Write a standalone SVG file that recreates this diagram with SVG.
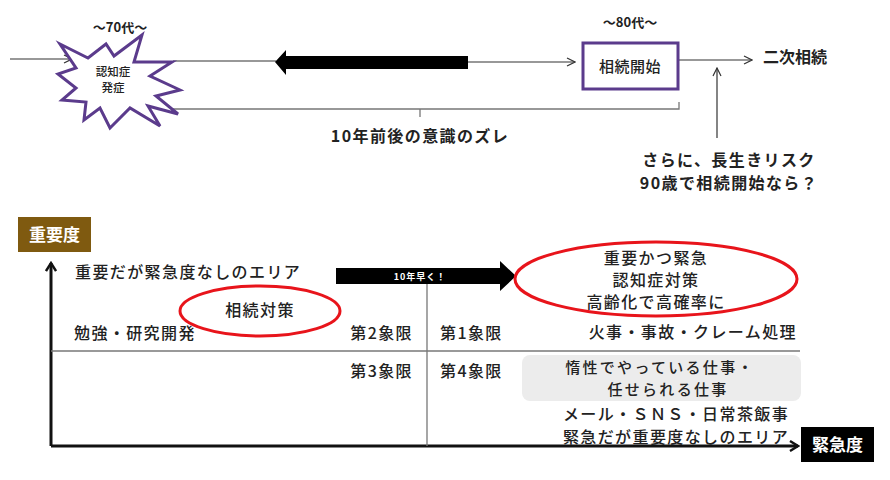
<svg xmlns="http://www.w3.org/2000/svg" width="890" height="480" viewBox="0 0 890 480">
<defs>
<style>
text{font-family:"Noto Sans CJK JP","Noto Sans",sans-serif;fill:#222;font-weight:500;}
.b{font-weight:bold;}
.m{font-size:16px;letter-spacing:1.4px;}
.s{font-size:15px;letter-spacing:2.3px;}
.c{text-anchor:middle;}
.thin{stroke:#333;stroke-width:1.2;fill:none;}
.gray{stroke:#777;stroke-width:1.3;fill:none;}
.axis{stroke:#111;stroke-width:3;fill:none;}
</style>
<marker id="open" viewBox="0 0 10 10" refX="9" refY="5" markerWidth="10" markerHeight="10" markerUnits="userSpaceOnUse" orient="auto">
<path d="M1,1 L9,5 L1,9" fill="none" stroke="#333" stroke-width="1.2"/>
</marker>
<marker id="axisHead" viewBox="0 0 12 12" refX="10" refY="6" markerWidth="12" markerHeight="12" markerUnits="userSpaceOnUse" orient="auto">
<path d="M2,1 L10,6 L2,11" fill="none" stroke="#111" stroke-width="2.4"/>
</marker>
</defs>
<rect width="890" height="480" fill="#fff"/>

<g id="connectors">
<line x1="10" y1="59" x2="72" y2="59" class="thin" marker-end="url(#open)"/>
<line x1="173" y1="61" x2="276" y2="61" class="thin"/>
<line x1="467" y1="62" x2="575" y2="62" class="thin" marker-end="url(#open)"/>
<line x1="679" y1="60" x2="752" y2="60" class="thin" marker-end="url(#open)"/>
<line x1="717" y1="138" x2="717" y2="68" class="thin" marker-end="url(#open)"/>
<path d="M159,102 L159,109 L679,109 L679,102 M420,109 L420,117" class="gray"/>
<line x1="51" y1="446" x2="51" y2="263" class="axis" marker-end="url(#axisHead)"/>
<line x1="51" y1="446" x2="798" y2="446" class="axis" marker-end="url(#axisHead)"/>
<line x1="427" y1="283" x2="427" y2="446" class="gray"/>
<line x1="51" y1="351" x2="800" y2="351" class="gray"/>
</g>

<g id="shift-arrow">
<polygon points="275,62 286,50 286,56 468,56 468,69 286,69 286,75" fill="#000"/>
</g>

<g id="dementia-onset">
<text x="120" y="32" class="c b" font-size="13">～70代～</text>
<polygon points="60,44 88,58 106,44 114,56 142,35 134,62 172,62 150,76 180,90 156,96 178,114 148,106 160,126 130,108 110,128 100,108 84,120 86,102 62,100 76,88 58,74 76,68" fill="#fff" stroke="#5b3b8c" stroke-width="3" stroke-linejoin="miter"/>
<text x="113" y="76" class="c" font-size="11.5">認知症</text>
<text x="113" y="92" class="c" font-size="11.5">発症</text>
</g>

<g id="inheritance-start">
<text x="630" y="27" class="c b" font-size="13">～80代～</text>
<rect x="583" y="43" width="95" height="46" fill="#fff" stroke="#5b3b8c" stroke-width="3"/>
<text x="630" y="72" class="c" font-size="15" letter-spacing="0.5">相続開始</text>
</g>

<g id="second-inheritance">
<text x="763" y="63" class="b" font-size="16">二次相続</text>
</g>

<g id="gap-label">
<text x="420" y="142" class="c b m">10年前後の意識のズレ</text>
</g>

<g id="longevity-note">
<text x="729" y="166" class="c b m">さらに、長生きリスク</text>
<text x="729" y="189" class="c b m">90歳で相続開始なら？</text>
</g>

<g id="importance-label">
<rect x="18" y="217" width="73" height="35" fill="#7f5a10"/>
<text x="54.5" y="241" class="c b" font-size="17" style="fill:#fff">重要度</text>
</g>

<g id="urgency-label">
<rect x="801" y="427" width="73" height="35" fill="#000"/>
<text x="837.5" y="451" class="c b" font-size="17" style="fill:#fff">緊急度</text>
</g>

<g id="early-arrow">
<polygon points="336,268 500,268 500,261 516,276 500,291 500,284 336,284" fill="#000"/>
<text x="420" y="280" class="c b" font-size="9" letter-spacing="1" style="fill:#fff">10年早く！</text>
</g>

<g id="q2">
<text x="75" y="278" class="m">重要だが緊急度なしのエリア</text>
<ellipse cx="260" cy="311" rx="80" ry="25" fill="none" stroke="#e8141b" stroke-width="3"/>
<text x="260" y="316" class="c m">相続対策</text>
<text x="74" y="339" class="m">勉強・研究開発</text>
<text x="413" y="339" class="m" text-anchor="end">第2象限</text>
</g>

<g id="q1">
<ellipse cx="656" cy="279" rx="141" ry="37" fill="none" stroke="#e8141b" stroke-width="3"/>
<text x="656" y="264" class="c m">重要かつ緊急</text>
<text x="656" y="286" class="c m">認知症対策</text>
<text x="656" y="308" class="c m">高齢化で高確率に</text>
<text x="440" y="339" class="m">第1象限</text>
<text x="797" y="338" class="m" text-anchor="end">火事・事故・クレーム処理</text>
</g>

<g id="q3">
<text x="413" y="377" class="m" text-anchor="end">第3象限</text>
</g>

<g id="q4">
<text x="440" y="377" class="m">第4象限</text>
<rect x="522" y="355" width="279" height="46" rx="8" fill="#ececec"/>
<text x="660" y="373" class="c s">惰性でやっている仕事・</text>
<text x="668" y="395" class="c s">任せられる仕事</text>
<text x="676" y="420" class="c m">メール・ＳＮＳ・日常茶飯事</text>
<text x="676" y="443" class="c m">緊急だが重要度なしのエリア</text>
</g>
</svg>
